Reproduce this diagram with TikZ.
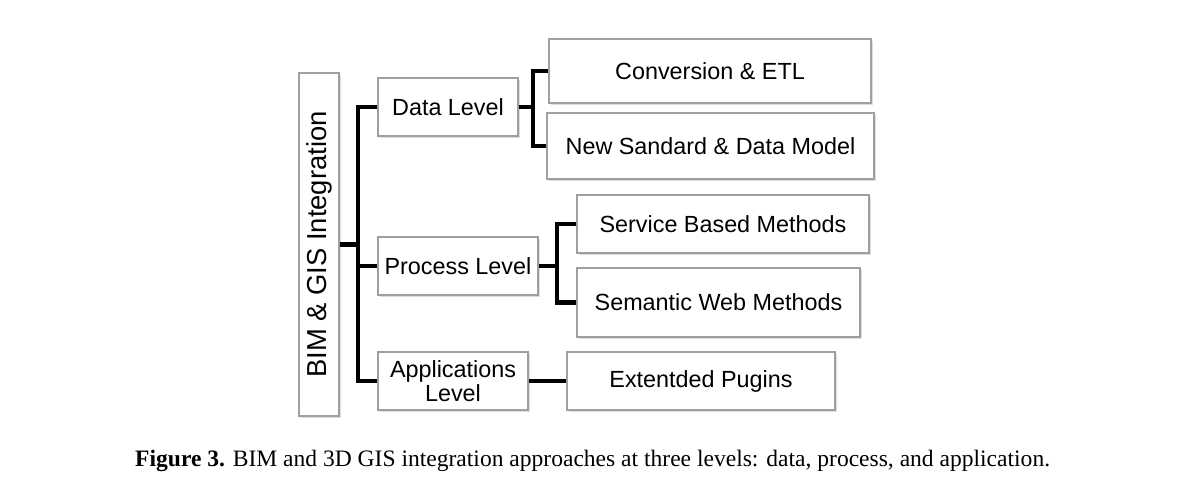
\documentclass[tikz,border=0pt]{standalone}
\usepackage{fontspec}
\setmainfont{Liberation Serif}
\newfontfamily\boxfont{Liberation Sans}
\usetikzlibrary{shadows}
\tikzset{
  levelbox/.style={draw=gray!75, fill=white, line width=0.6pt,
    drop shadow={shadow xshift=1.2pt, shadow yshift=-1.2pt, fill=gray!45, opacity=0.6},
    inner sep=0pt, align=center, font=\boxfont\fontsize{13.3}{15.5}\selectfont},
  branch/.style={line width=2.3pt, line cap=butt, line join=miter},
}
\begin{document}
\begin{tikzpicture}[x=0.02cm, y=-0.02cm]
    \useasboundingbox (0,0) rectangle (1183,493);

    % root
    \node[levelbox, minimum width=40*0.02cm, minimum height=343*0.02cm,
          font=\boxfont\fontsize{15.6}{18}\selectfont] (bim) at (319,244.5)
          {\rotatebox{90}{BIM \& GIS Integration}};

    % levels
    \node[levelbox, minimum width=140*0.02cm, minimum height=58*0.02cm] (data) at (448,107) {Data Level};
    \node[levelbox, minimum width=160*0.02cm, minimum height=58*0.02cm] (proc) at (458,266) {Process Level};
    \node[levelbox, minimum width=150*0.02cm, minimum height=58*0.02cm] (appl) at (453,381) {Applications\\[-2pt]Level};

    % approaches
    \node[levelbox, minimum width=322*0.02cm, minimum height=64*0.02cm] (conv) at (710,71) {Conversion \& ETL};
    \node[levelbox, minimum width=327*0.02cm, minimum height=66*0.02cm] (stand) at (710.5,146) {New Sandard \& Data Model};
    \node[levelbox, minimum width=292*0.02cm, minimum height=58*0.02cm] (serv) at (723,224) {Service Based Methods};
    \node[levelbox, minimum width=283*0.02cm, minimum height=69*0.02cm] (sem) at (718.5,302.5) {Semantic Web Methods};
    \node[levelbox, minimum width=268*0.02cm, minimum height=58*0.02cm] (plug) at (701,381) {Extentded Pugins};

    % trunk
    \coordinate (trunk) at (358,0);
    \draw[branch] (bim.east) -- (trunk |- bim.east);
    \draw[branch] (data.west) -- (trunk |- data.west) -- (trunk |- appl.west) -- (appl.west);
    \draw[branch] (trunk |- proc.west) -- (proc.west);

    % data level
    \coordinate (dfork) at (533,0);
    \draw[branch] (data.east) -- (dfork |- data.east);
    \draw[branch] (conv.west) -- (dfork |- conv.west) -- (dfork |- stand.west) -- (stand.west);

    % process level
    \coordinate (pfork) at (557,0);
    \draw[branch] (proc.east) -- (pfork |- proc.east);
    \draw[branch] (serv.west) -- (pfork |- serv.west) -- (pfork |- sem.west) -- (sem.west);

    % application level
    \draw[branch] (appl.east) -- (appl.east -| plug.west);

    \node[anchor=west, font=\fontsize{13.4}{15}\selectfont] (cap) at (129,461)
      {\textbf{Figure 3.} BIM and 3D GIS integration approaches at three levels: data, process, and application.};
\end{tikzpicture}
\end{document}
